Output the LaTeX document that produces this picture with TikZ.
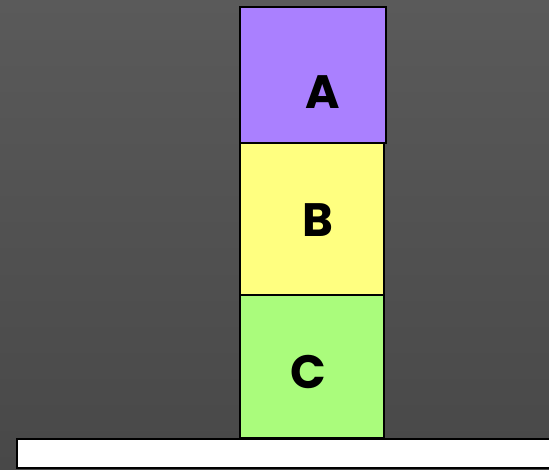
\documentclass[tikz,border=0pt]{standalone}
\usepackage{fontspec}
\setmainfont{Poppins}
\definecolor{bgtop}{RGB}{90,90,90}
\definecolor{bgbot}{RGB}{72,72,72}
\definecolor{cola}{RGB}{170,128,255}
\definecolor{colb}{RGB}{255,255,128}
\definecolor{colc}{RGB}{170,252,124}
\begin{document}
\begin{tikzpicture}[x=1bp,y=-1bp,
  blockbox/.style={draw=black,line width=1.2bp},
  lbl/.style={font=\fontsize{47}{47}\selectfont\bfseries,text=black,inner sep=0pt,anchor=base}]
\useasboundingbox (0,0) rectangle (549,470);
\shade[top color=bgtop,bottom color=bgbot] (0,0) rectangle (549,470);
\draw[blockbox,fill=colb] (240,143) rectangle (384,295);
\draw[blockbox,fill=colc] (240,295) rectangle (384,438);
\draw[blockbox,fill=cola] (240,7) rectangle (386,143);
\draw[draw=black,line width=2bp,fill=white] (17,439) rectangle (560,468);
\node[lbl] (la) at (323,109) {A};
\node[lbl] (lb) at (318,237) {B};
\node[lbl] (lc) at (308,388) {C};
\end{tikzpicture}
\end{document}
